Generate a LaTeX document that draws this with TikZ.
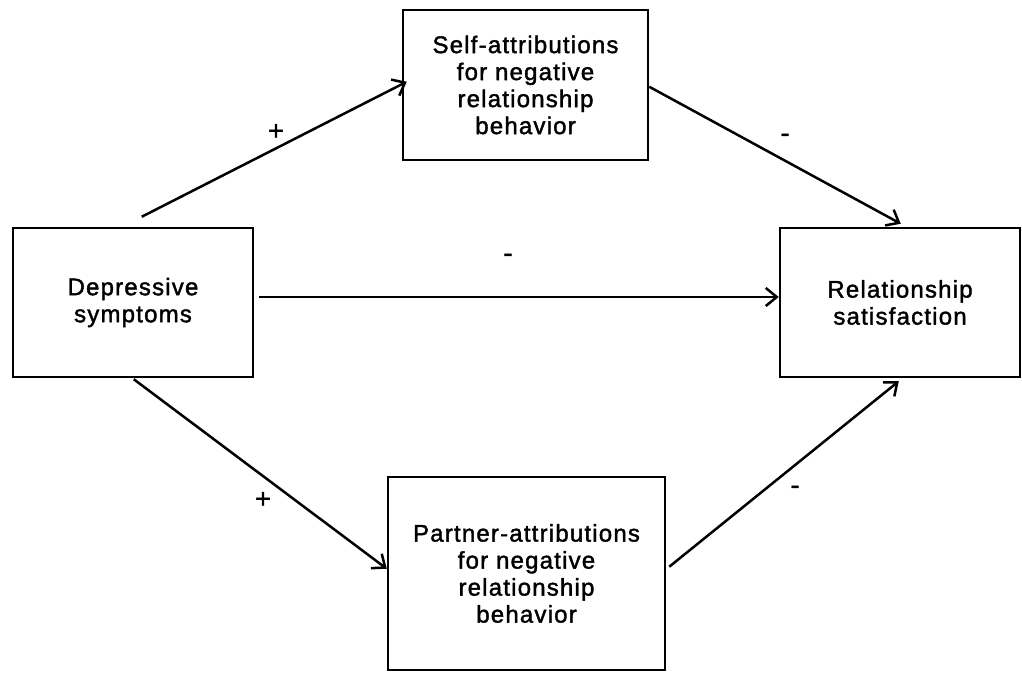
\documentclass[tikz,border=0pt]{standalone}
\usepackage{fontspec}
\setmainfont{Liberation Sans}[LetterSpace=5,FakeBold=1.6]
\usetikzlibrary{arrows.meta}
\begin{document}
\begin{tikzpicture}[x=1pt,y=1pt,
  box/.style={draw, line width=2.5pt, inner sep=0pt, align=center,
    font=\fontsize{24}{27}\selectfont},
  arr/.style={line width=2.5pt, -{Straight Barb[length=11pt,width=18pt,line width=2.5pt]}},
  sign/.style={inner sep=0pt, font=\fontsize{27}{27}\selectfont}]
\useasboundingbox (0,0) rectangle (1022,672);
\node[box, minimum width=245pt, minimum height=150pt] (T) at (525.5,587)
  {Self-attributions\\for negative\\relationship\\behavior};
\node[box, minimum width=240pt, minimum height=149pt] (L) at (133,369.5)
  {Depressive\\symptoms};
\node[box, minimum width=240pt, minimum height=149pt] (R) at (900,369.5)
  {Relationship\\satisfaction};
\node[box, minimum width=277pt, minimum height=193pt] (B) at (526.5,98.5)
  {Partner-attributions\\for negative\\relationship\\behavior};
\draw[arr] ([shift={(130,10)}]L.north west) -- ([shift={(5,-73)}]T.north west);
\draw[arr] ([shift={(0,-78)}]T.north east) -- ([shift={(122,3)}]R.north west);
\draw[arr] ([shift={(5,5.5)}]L.east) -- ([yshift=5.5]R.west);
\draw[arr] ([shift={(122,-1)}]L.south west) -- ([shift={(0,-93)}]B.north west);
\draw[arr] ([shift={(3,-91)}]B.north east) -- ([shift={(120,-3)}]R.south west);
\node[sign] (s1) at (276,540) {+};
\node[sign] (s2) at (785,534) {-};
\node[sign] (s3) at (508,414) {-};
\node[sign] (s4) at (263,172) {+};
\node[sign] (s5) at (795,182) {-};
\end{tikzpicture}
\end{document}
